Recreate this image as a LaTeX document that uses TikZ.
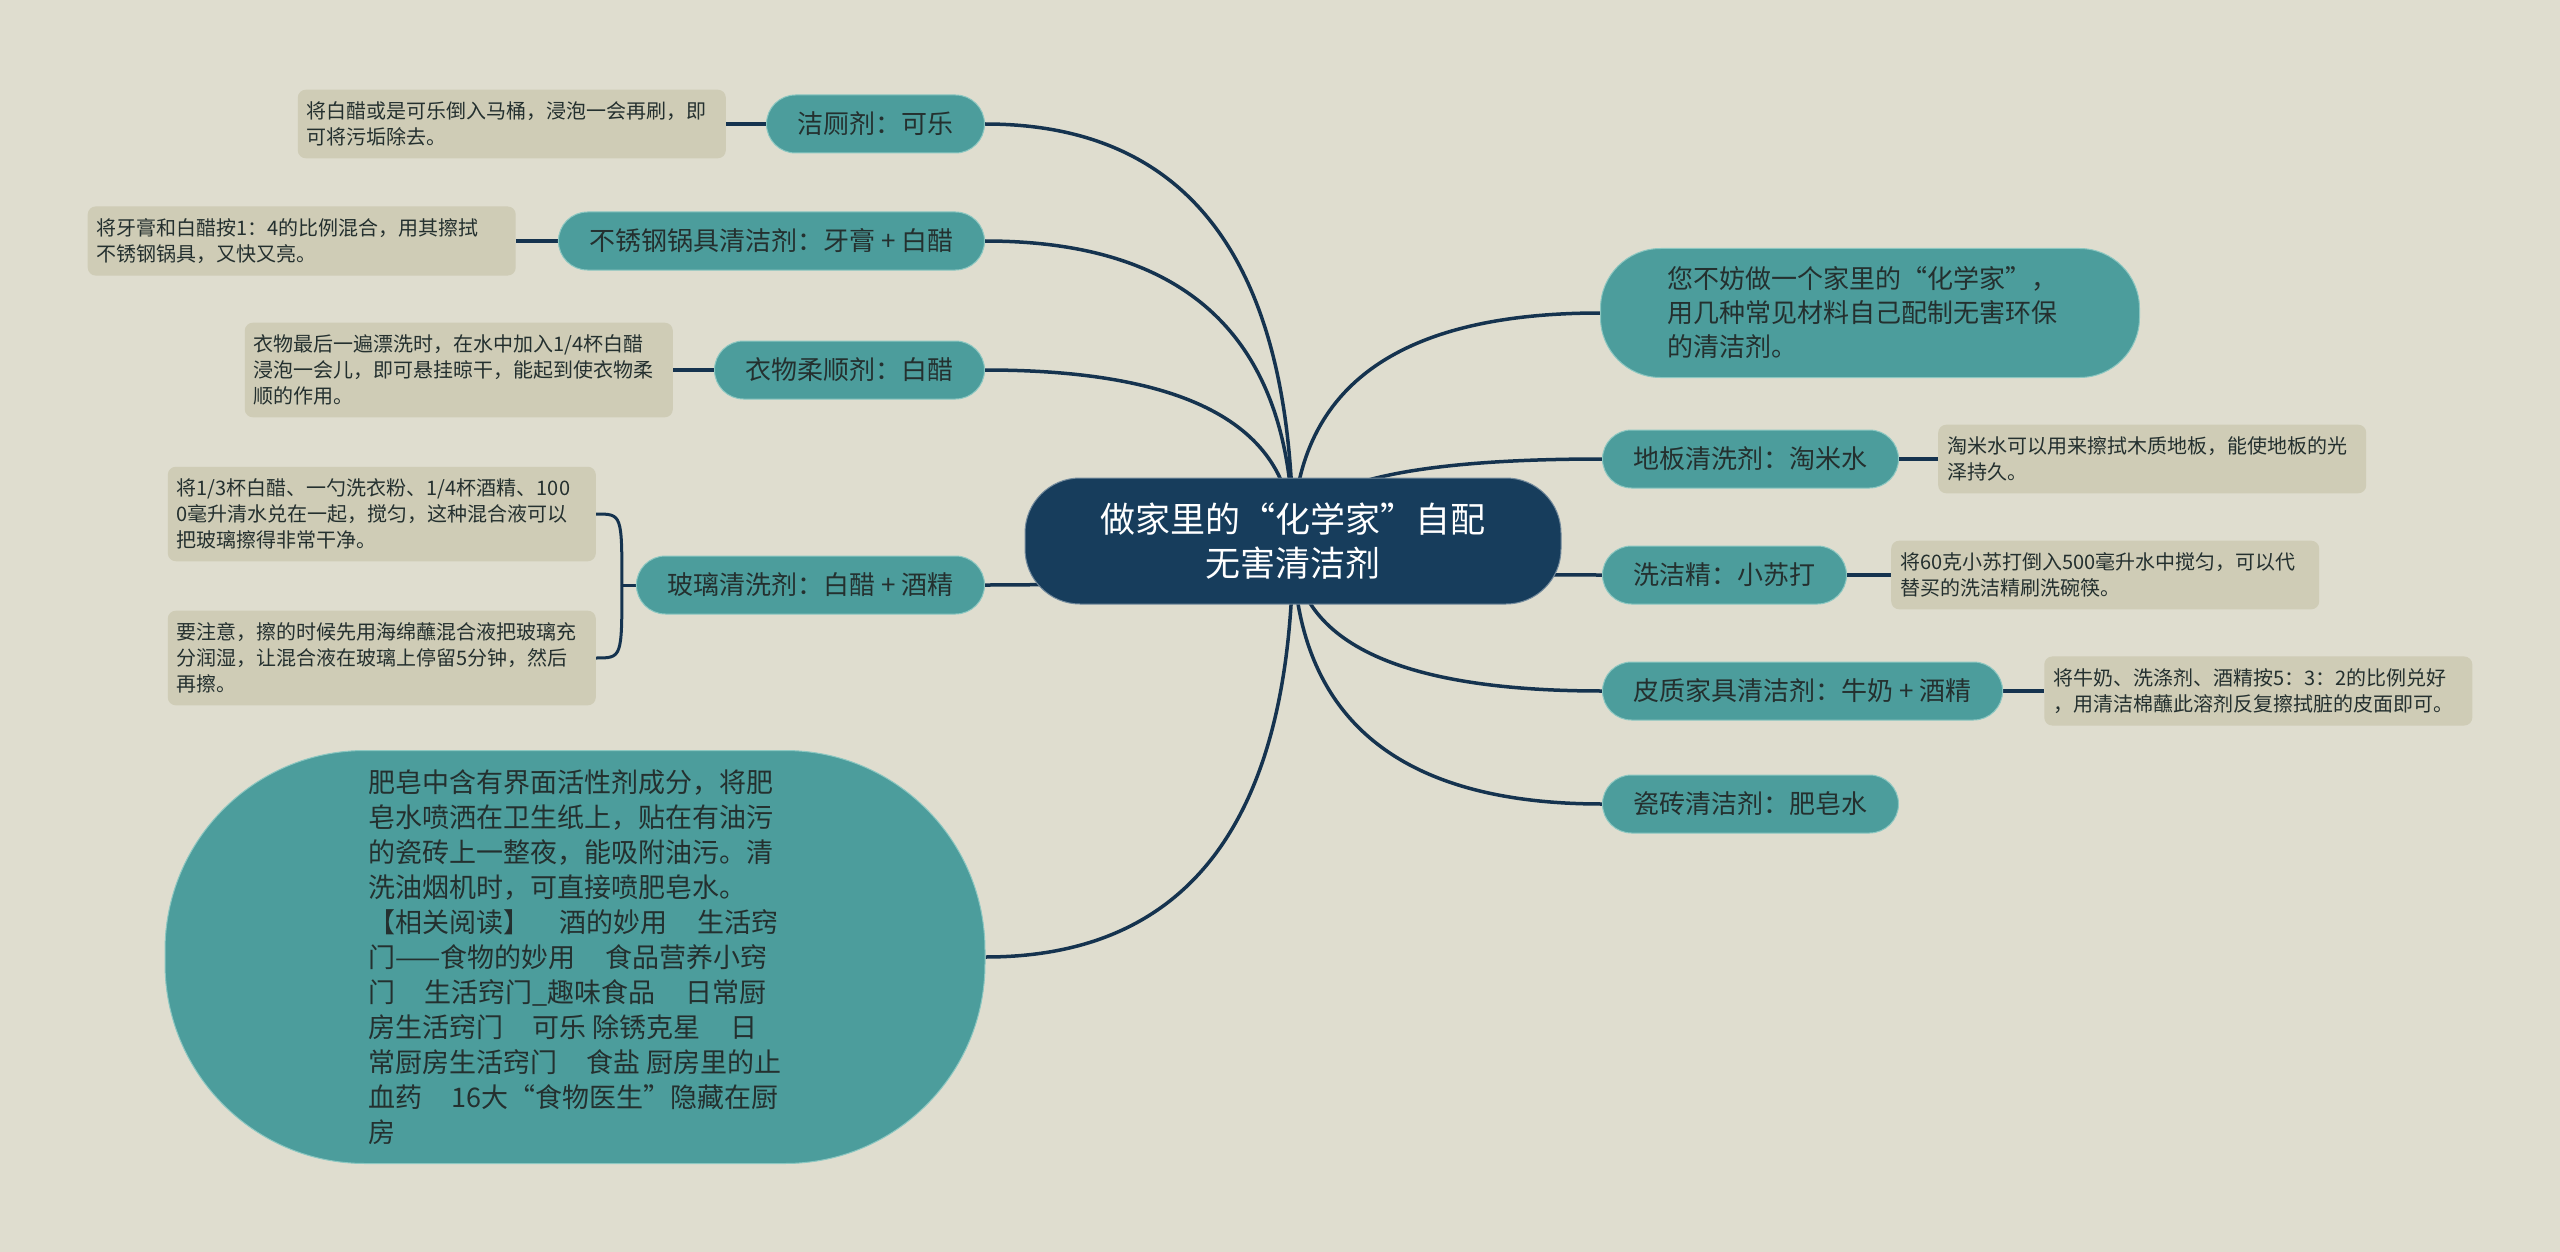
\documentclass[tikz,border=0pt]{standalone}
\usepackage{fontspec}
\setmainfont{Noto Sans CJK SC}
\usetikzlibrary{positioning,backgrounds,calc}
\definecolor{bgpaper}{HTML}{DFDDCF}
\definecolor{rootblue}{HTML}{173D5C}
\definecolor{tealfill}{HTML}{4C9D9C}
\definecolor{tealedge}{HTML}{8CC7C1}
\definecolor{notefill}{HTML}{CFCCB6}
\definecolor{wirecol}{HTML}{15334F}
\definecolor{ink}{HTML}{24302F}
\tikzset{
  topic/.style={fill=tealfill,draw=tealedge,line width=1pt,rounded corners=29pt,minimum height=58pt,inner xsep=31pt,text=ink,font=\fontsize{26}{32}\selectfont},
  bigtopic/.style={fill=tealfill,draw=tealedge,line width=1pt,align=left,text=ink},
  note/.style={fill=notefill,rounded corners=8pt,text width=410pt,inner xsep=9pt,inner ysep=12pt,align=left,text=ink,font=\fontsize{20}{26}\selectfont},
  wire/.style={draw=wirecol,line width=3.5pt},
}
\begin{document}
\begin{tikzpicture}[x=1pt,y=-1pt]
\useasboundingbox (0,0) rectangle (2560,1252);
\node[fill=rootblue,draw=rootblue!60!white,line width=1pt,rounded corners=55pt,minimum width=536pt,minimum height=126pt,text=white,align=center,font=\fontsize{35}{44}\selectfont](root)at(1293,541){做家里的“化学家”自配\\无害清洁剂};
\node[topic,anchor=east](n1)at(985,124){洁厕剂：可乐};
\node[topic,anchor=east](n2)at(985,241){不锈钢锅具清洁剂：牙膏 + 白醋};
\node[topic,anchor=east](n3)at(985,370){衣物柔顺剂：白醋};
\node[topic,anchor=east](n4)at(985,585){玻璃清洗剂：白醋 + 酒精};
\node[bigtopic,rounded corners=200pt,minimum width=820pt,minimum height=413pt,font=\fontsize{27}{35}\selectfont](n5)at(575,957){肥皂中含有界面活性剂成分，将肥\\皂水喷洒在卫生纸上，贴在有油污\\的瓷砖上一整夜，能吸附油污。清\\洗油烟机时，可直接喷肥皂水。\\【相关阅读】\hspace{1.1em}酒的妙用\hspace{1.1em}生活窍\\门——食物的妙用\hspace{1.1em}食品营养小窍\\门\hspace{1.1em}生活窍门\_趣味食品\hspace{1.1em}日常厨\\房生活窍门\hspace{1.1em}可乐 除锈克星\hspace{1.1em}日\\常厨房生活窍门\hspace{1.1em}食盐 厨房里的止\\血药\hspace{1.1em}16大“食物医生”隐藏在厨\\房};
\node[bigtopic,anchor=west,rounded corners=60pt,minimum width=539pt,minimum height=129pt,text width=405pt,font=\fontsize{26}{34}\selectfont](n6)at(1600,313){您不妨做一个家里的“化学家”，\\用几种常见材料自己配制无害环保\\的清洁剂。};
\node[topic,anchor=west](n7)at(1602,459){地板清洗剂：淘米水};
\node[topic,anchor=west](n8)at(1602,575){洗洁精：小苏打};
\node[topic,anchor=west](n9)at(1602,691){皮质家具清洁剂：牛奶 + 酒精};
\node[topic,anchor=west](n10)at(1602,804){瓷砖清洁剂：肥皂水};
\node[note,left=40pt of n1](d1){将白醋或是可乐倒入马桶，浸泡一会再刷，即\\可将污垢除去。};
\node[note,left=42pt of n2](d2){将牙膏和白醋按1：4的比例混合，用其擦拭\\不锈钢锅具，又快又亮。};
\node[note,left=41pt of n3](d3){衣物最后一遍漂洗时，在水中加入1/4杯白醋\\浸泡一会儿，即可悬挂晾干，能起到使衣物柔\\顺的作用。};
\node[note,anchor=east](d4a)at(596,514){将1/3杯白醋、一勺洗衣粉、1/4杯酒精、100\\0毫升清水兑在一起，搅匀，这种混合液可以\\把玻璃擦得非常干净。};
\node[note,anchor=east](d4b)at(596,658){要注意，擦的时候先用海绵蘸混合液把玻璃充\\分润湿，让混合液在玻璃上停留5分钟，然后\\再擦。};
\node[note,right=39pt of n7](d7){淘米水可以用来擦拭木质地板，能使地板的光\\泽持久。};
\node[note,right=44pt of n8](d8){将60克小苏打倒入500毫升水中搅匀，可以代\\替买的洗洁精刷洗碗筷。};
\node[note,right=41pt of n9](d9){将牛奶、洗涤剂、酒精按5：3：2的比例兑好\\，用清洁棉蘸此溶剂反复擦拭脏的皮面即可。};
\begin{scope}[on background layer]
\fill[bgpaper](0,0)rectangle(2560,1252);
\foreach \n in {n1,n2,n3,n4,n5}
  \draw[wire](root.center)..controls($(root.center)!2/3!(root.center|-\n.east)$)and($(\n.east)!2/3!(root.center|-\n.east)$)..(\n.east);
\foreach \n in {n6,n7,n8,n9,n10}
  \draw[wire](root.center)..controls($(root.center)!2/3!(root.center|-\n.west)$)and($(\n.west)!2/3!(root.center|-\n.west)$)..(\n.west);
\draw[wire](n1.west)--(d1.east);
\draw[wire](n2.west)--(d2.east);
\draw[wire](n3.west)--(d3.east);
\draw[wire](n7.east)--(d7.west);
\draw[wire](n8.east)--(d8.west);
\draw[wire](n9.east)--(d9.west);
\draw[wire,line width=3pt](n4.west)--++(-14,0)coordinate(g);
\draw[wire,line width=3pt](g)..controls(g|-d4a.east)..(d4a.east);
\draw[wire,line width=3pt](g)..controls(g|-d4b.east)..(d4b.east);
\end{scope}
\end{tikzpicture}
\end{document}
